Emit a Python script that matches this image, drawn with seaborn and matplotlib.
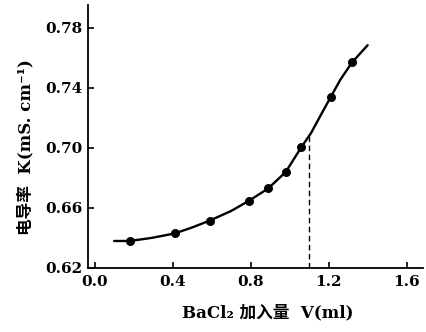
import seaborn as sns
import matplotlib.pyplot as plt

# Точки измерений (объём BaCl2, мл -> электропроводность, мСм/см)
volume = [0.18, 0.41, 0.59, 0.79, 0.89, 0.98, 1.06, 1.21, 1.32]
conductivity = [0.638, 0.643, 0.6516, 0.6647, 0.673, 0.684, 0.7005, 0.7338, 0.757]

# Сглаженная кривая
curve_v = [0.10, 0.18, 0.29, 0.41, 0.50, 0.59, 0.70, 0.79, 0.89, 0.98,
           1.06, 1.11, 1.16, 1.21, 1.26, 1.32, 1.40]
curve_k = [0.638, 0.638, 0.640, 0.643, 0.647, 0.6516, 0.658, 0.6647, 0.673, 0.684,
           0.7005, 0.710, 0.722, 0.7338, 0.7455, 0.757, 0.7685]

# Точка эквивалентности
end_v = 1.10
end_k = 0.710

x_ticks = [0.0, 0.4, 0.8, 1.2, 1.6]
y_ticks = [0.62, 0.66, 0.70, 0.74, 0.78]

sns.set_theme(style="ticks")
plt.rcParams['font.family'] = ['DejaVu Serif', 'Noto Sans CJK SC']
plt.rcParams['font.weight'] = 'bold'
plt.rcParams['text.color'] = 'black'
plt.rcParams['axes.labelcolor'] = 'black'

fig = plt.figure(figsize=(4.26, 3.32), dpi=100)
ax = fig.add_axes([0.2066, 0.1928, 0.7864, 0.7922])

sns.lineplot(x=curve_v, y=curve_k, sort=False, color='black', linewidth=1.7, ax=ax)
sns.scatterplot(x=volume, y=conductivity, color='black', s=42, edgecolor='black',
                linewidth=0, ax=ax, zorder=3)
ax.vlines(end_v, 0.62, end_k, colors='black', linestyles=(0, (4, 2.5)), linewidth=1.0)

ax.set_xlim(-0.034, 1.684)
ax.set_ylim(0.62, 0.7953)
ax.set_xticks(x_ticks)
ax.set_yticks(y_ticks)
ax.set_xticklabels([f"{t:.1f}" for t in x_ticks])
ax.set_yticklabels([f"{t:.2f}" for t in y_ticks])
ax.tick_params(direction='in', length=4, width=1.2, labelsize=11, colors='black')
ax.tick_params(axis='x', pad=5)
ax.tick_params(axis='y', pad=4)

for side in ['left', 'bottom']:
    ax.spines[side].set_linewidth(1.3)
    ax.spines[side].set_color('black')
sns.despine(ax=ax)

ax.set_xlabel("BaCl₂ 加入量  V(ml)", fontsize=12, fontweight='bold', color='black')
ax.set_ylabel("电导率  K(mS. cm⁻¹)", fontsize=12, fontweight='bold', color='black')
ax.xaxis.set_label_coords(0.536, -0.14)
ax.yaxis.set_label_coords(-0.16, 0.46)

fig.savefig('out.png', dpi=100)
